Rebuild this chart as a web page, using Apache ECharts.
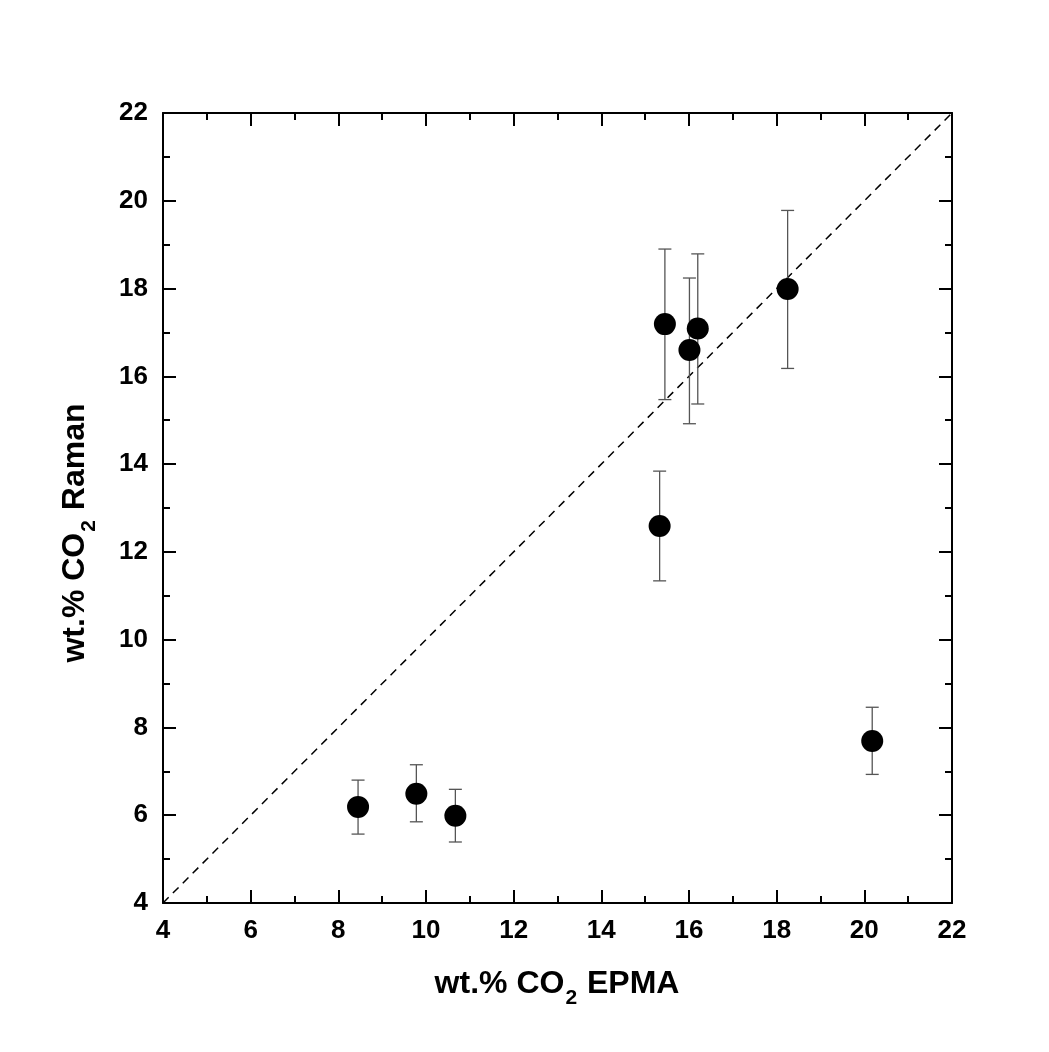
<!DOCTYPE html>
<html>
<head>
<meta charset="utf-8">
<title>wt.% CO2 Raman vs EPMA</title>
<script src="https://cdn.jsdelivr.net/npm/echarts@6/dist/echarts.min.js"></script>
<style>
  html, body { margin: 0; padding: 0; background: #ffffff; }
  #chart { width: 1049px; height: 1052px; }
</style>
</head>
<body>
<div id="chart"></div>
<script>
// CO2 content measured by EPMA (x) and Raman (y), wt.%
const epma   = [8.45, 9.78, 10.67, 15.33, 15.45, 16.01, 16.20, 18.25, 20.18];
const raman  = [6.19, 6.49, 5.99, 12.59, 17.19, 16.60, 17.09, 17.99, 7.69];
// Raman error bar limits
const ramanLow  = [5.57, 5.85, 5.39, 11.34, 15.47, 14.92, 15.37, 16.18, 6.93];
const ramanHigh = [6.80, 7.15, 6.59, 13.84, 18.90, 18.24, 18.79, 19.78, 8.46];
// 1:1 reference line
const oneToOne = [[4, 4], [22, 22]];
// axis range
const axisMin = 4, axisMax = 22, axisStep = 2;

const FONT = '"Liberation Sans", Arial, Helvetica, sans-serif';

const points = epma.map((x, i) => [x, raman[i]]);
const errData = epma.map((x, i) => [x, ramanLow[i], ramanHigh[i]]);

const chart = echarts.init(document.getElementById('chart'), null, { renderer: 'canvas' });

function axisCommon(showLabels) {
  return {
    type: 'value',
    min: axisMin,
    max: axisMax,
    interval: axisStep,
    axisLine: { show: true, onZero: false, lineStyle: { color: '#000', width: 2 } },
    axisTick: { show: true, inside: true, length: 13, lineStyle: { color: '#000', width: 2 } },
    minorTick: { show: true, splitNumber: 2, length: 7, lineStyle: { color: '#000', width: 2 } },
    splitLine: { show: false },
    minorSplitLine: { show: false },
    axisLabel: {
      show: showLabels,
      color: '#000',
      fontFamily: FONT,
      fontWeight: 'bold',
      fontSize: 26,
      margin: 15
    }
  };
}

const titleRich = {
  a: { fontFamily: FONT, fontWeight: 'bold', fontSize: 32, fill: '#000', lineHeight: 38 },
  s: { fontFamily: FONT, fontWeight: 'bold', fontSize: 21, fill: '#000', lineHeight: 38, padding: [28, 1, 0, 1] }
};

const option = {
  backgroundColor: '#ffffff',
  animation: false,
  grid: { left: 163, right: 97, top: 113, bottom: 149, containLabel: false },
  xAxis: [
    Object.assign(axisCommon(true), { position: 'bottom' }),
    Object.assign(axisCommon(false), { position: 'top' })
  ],
  yAxis: [
    Object.assign(axisCommon(true), { position: 'left' }),
    Object.assign(axisCommon(false), { position: 'right' })
  ],
  graphic: [
    {
      type: 'text',
      x: 557, y: 984,
      style: {
        text: '{a|wt.% CO}{s|2}{a| EPMA}',
        rich: titleRich,
        align: 'center',
        verticalAlign: 'middle'
      }
    },
    {
      type: 'text',
      x: 75, y: 533,
      rotation: Math.PI / 2,
      style: {
        text: '{a|wt.% CO}{s|2}{a| Raman}',
        rich: titleRich,
        align: 'center',
        verticalAlign: 'middle'
      }
    }
  ],
  series: [
    {
      name: '1:1',
      type: 'line',
      data: oneToOne,
      symbol: 'none',
      silent: true,
      lineStyle: { color: '#000', width: 1.5, type: [8, 6] },
      z: 1
    },
    {
      name: 'error',
      type: 'custom',
      data: errData,
      z: 2,
      renderItem: function (params, api) {
        const x = api.value(0);
        const lo = api.coord([x, api.value(1)]);
        const hi = api.coord([x, api.value(2)]);
        const half = 6.5;
        const style = { stroke: '#555', lineWidth: 1.3 };
        return {
          type: 'group',
          children: [
            { type: 'line', shape: { x1: lo[0], y1: lo[1], x2: hi[0], y2: hi[1] }, style: style },
            { type: 'line', shape: { x1: lo[0] - half, y1: lo[1], x2: lo[0] + half, y2: lo[1] }, style: style },
            { type: 'line', shape: { x1: hi[0] - half, y1: hi[1], x2: hi[0] + half, y2: hi[1] }, style: style }
          ]
        };
      }
    },
    {
      name: 'samples',
      type: 'scatter',
      data: points,
      symbol: 'circle',
      symbolSize: 22,
      itemStyle: { color: '#000', opacity: 1 },
      z: 3
    }
  ]
};

chart.setOption(option);
</script>
</body>
</html>
